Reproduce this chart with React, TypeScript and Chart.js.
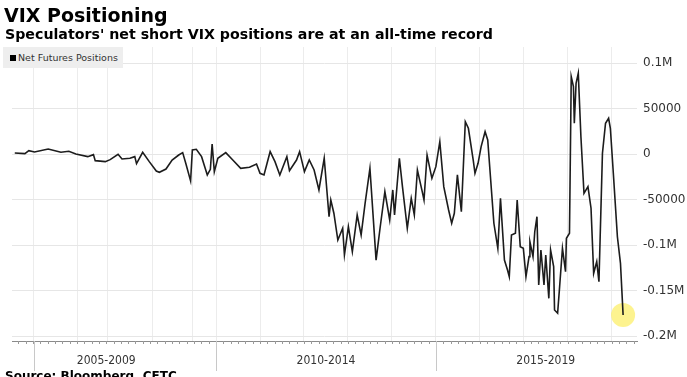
import React, { useEffect, useRef } from "react";
import { Chart, registerables } from "chart.js";

Chart.register(...registerables);

// Dates as decimal years, weekly-ish readings of speculators' net VIX futures positions (contracts)
const dates = [
  2005.42, 2005.65, 2005.74, 2005.87, 2006.18, 2006.47, 2006.65, 2006.81, 2007.08, 2007.21,
  2007.25, 2007.48, 2007.59, 2007.77, 2007.86, 2008.04, 2008.15, 2008.19, 2008.33, 2008.48,
  2008.64, 2008.71, 2008.86, 2009.0, 2009.15, 2009.24, 2009.31, 2009.42, 2009.46, 2009.55,
  2009.67, 2009.8, 2009.87, 2009.91, 2009.96, 2010.04, 2010.22, 2010.38, 2010.56, 2010.76,
  2010.92, 2011.0, 2011.09, 2011.16, 2011.23, 2011.34, 2011.45, 2011.61, 2011.67, 2011.83,
  2011.9, 2012.01, 2012.12, 2012.23, 2012.34, 2012.46, 2012.57, 2012.61, 2012.68, 2012.77,
  2012.88, 2012.92, 2013.01, 2013.1, 2013.21, 2013.3, 2013.39, 2013.5, 2013.64, 2013.73,
  2013.84, 2013.95, 2014.02, 2014.06, 2014.17, 2014.24, 2014.35, 2014.44, 2014.51, 2014.58,
  2014.69, 2014.73, 2014.8, 2014.91, 2015.0, 2015.09, 2015.18, 2015.29, 2015.36, 2015.42,
  2015.49, 2015.58, 2015.67, 2015.74, 2015.85, 2015.89, 2015.96, 2016.03, 2016.12, 2016.18,
  2016.32, 2016.41, 2016.47, 2016.56, 2016.63, 2016.67, 2016.72, 2016.81, 2016.85, 2016.92,
  2016.99, 2017.05, 2017.12, 2017.14, 2017.21, 2017.25, 2017.3, 2017.34, 2017.39, 2017.46,
  2017.5, 2017.57, 2017.61, 2017.68, 2017.7, 2017.77, 2017.81, 2017.88, 2017.95, 2017.97,
  2018.04, 2018.08, 2018.13, 2018.15, 2018.19, 2018.24, 2018.3, 2018.37, 2018.46, 2018.53,
  2018.59, 2018.66, 2018.71, 2018.79, 2018.86, 2018.93, 2018.97, 2019.04, 2019.13, 2019.2,
  2019.26,
];

const netPositions = [
  1400, 700, 4000, 2500, 5800, 2200, 3300, 300, -2600, -400,
  -7000, -8100, -5900, 0, -5200, -4400, -2600, -10300, 2200, -8100,
  -18400, -19800, -16200, -6300, -800, 1800, -9900, -29300, 4700, 5500,
  -2600, -22700, -16500, 11300, -19100, -4400, 1800, -6300, -15400, -14300,
  -10700, -20900, -22700, -9900, 2900, -8100, -22700, -2600, -18000, -6300,
  2900, -19100, -6300, -17300, -39200, -4400, -68600, -50200, -64800, -94200,
  -81300, -110700, -79600, -107000, -66700, -88700, -53900, -15400, -116300, -81300,
  -41100, -72200, -39200, -66700, -4400, -35600, -81300, -48400, -66700, -17300,
  -41100, -50200, -800, -26400, -13600, 13800, -35600, -61200, -75800, -64800,
  -22700, -63100, 35800, 28600, -6300, -20900, -9900, 8400, 24800, 15700,
  -75800, -103300, -48400, -116200, -127200, -134500, -88700, -86800, -50200, -101500,
  -103300, -134500, -112500, -96100, -112500, -85100, -68600, -143600, -105200, -143600,
  -110700, -158300, -105200, -123500, -171100, -174700, -149100, -103300, -129000, -92300,
  -86800, 85300, 74300, 34100, 78000, 89000, 19300, -42900, -35600, -59300,
  -130800, -118000, -140000, 1100, 34100, 39600, 28600, -22700, -90600, -119800,
  -176600,
];

const yTickValues = [100000, 50000, 0, -50000, -100000, -150000, -200000];
const yTickLabels = ["0.1M", "50000", "0", "-50000", "-0.1M", "-0.15M", "-0.2M"];

const gridYears = [2005.85, 2006.85, 2007.54, 2008.55, 2009.46, 2010, 2011, 2012, 2013, 2014, 2015, 2016, 2017, 2018, 2019];
const dividerYears = [2005.85, 2010, 2015];
const periodLabels = ["2005-2009", "2010-2014", "2015-2019"];
const periodCenters = [2007.5, 2012.5, 2017.5];

const X_MIN = 2005.357;
const X_MAX = 2019.576;
const Y_MIN = -205200;
const Y_MAX = 117900;

const axisDecor = {
  id: "axisDecor",
  afterDraw(chart: any) {
    const { ctx, chartArea } = chart;
    const x = chart.scales.x;
    const yb = chartArea.bottom;
    ctx.save();
    ctx.lineWidth = 1;
    ctx.strokeStyle = "#9a9a9a";
    ctx.beginPath();
    for (let m = Math.ceil(X_MIN * 6); m / 6 <= X_MAX; m++) {
      const px = Math.round(x.getPixelForValue(m / 6)) + 0.5;
      ctx.moveTo(px, yb);
      ctx.lineTo(px, yb + 3);
    }
    ctx.stroke();
    ctx.strokeStyle = "#c8c8c8";
    ctx.beginPath();
    for (const d of dividerYears) {
      const px = Math.round(x.getPixelForValue(d)) + 0.5;
      ctx.moveTo(px, yb);
      ctx.lineTo(px, yb + 30);
    }
    ctx.stroke();
    ctx.fillStyle = "#333";
    ctx.font = '12px "DejaVu Sans Condensed", "Liberation Sans Narrow", "DejaVu Sans"';
    ctx.textAlign = "center";
    ctx.textBaseline = "middle";
    periodLabels.forEach((p, i) => {
      ctx.fillText(p, x.getPixelForValue(periodCenters[i]), yb + 20);
    });
    ctx.restore();
  },
};

export default function App() {
  const ref = useRef<HTMLCanvasElement | null>(null);
  useEffect(() => {
    if (!ref.current) return;
    const last = dates.length - 1;
    const chart = new Chart(ref.current, {
      type: "line",
      data: {
        datasets: [
          {
            label: "Net Futures Positions",
            data: dates.map((d, i) => ({ x: d, y: netPositions[i] })),
            borderColor: "#1c1c1c",
            borderWidth: 1.6,
            pointRadius: 0,
            tension: 0,
          },
          {
            label: "highlight",
            data: [{ x: dates[last], y: netPositions[last] }],
            borderWidth: 0,
            showLine: false,
            pointRadius: 12,
            pointBackgroundColor: "rgba(252, 238, 95, 0.7)",
            pointBorderWidth: 0,
          },
        ],
      },
      options: {
        responsive: false,
        animation: false,
        devicePixelRatio: 1,
        layout: { padding: { top: 47, bottom: 36, left: 0, right: 0 } },
        plugins: { legend: { display: false }, tooltip: { enabled: false } },
        scales: {
          x: {
            type: "linear",
            min: X_MIN,
            max: X_MAX,
            afterBuildTicks: (s: any) => {
              s.ticks = gridYears.map((v) => ({ value: v }));
            },
            afterFit: (s: any) => {
              s.height = 0;
            },
            ticks: { display: false },
            grid: { color: "#ececec", drawTicks: false },
            border: { display: true, color: "#8a8a8a", width: 1 },
          },
          y: {
            position: "right",
            min: Y_MIN,
            max: Y_MAX,
            afterBuildTicks: (s: any) => {
              s.ticks = yTickValues.map((v) => ({ value: v }));
            },
            afterFit: (s: any) => {
              s.width = 50;
            },
            ticks: {
              padding: 6,
              color: "#333",
              font: { family: '"DejaVu Sans"', size: 12 },
              callback: (v: any) => {
                const i = yTickValues.indexOf(Number(v));
                return i >= 0 ? yTickLabels[i] : "";
              },
            },
            grid: { color: "#e6e6e6", drawTicks: false },
            border: { display: false },
          },
        },
      },
      plugins: [axisDecor],
    });
    return () => chart.destroy();
  }, []);

  return (
    <div
      style={{
        position: "fixed",
        top: 0,
        left: 0,
        width: 687,
        height: 377,
        overflow: "hidden",
        background: "#fff",
        fontFamily: '"DejaVu Sans", sans-serif',
      }}
    >
      <canvas ref={ref} width={687} height={377} style={{ position: "absolute", left: 0, top: 0 }} />
      <div style={{ position: "absolute", left: 4, top: 6, fontSize: 19, lineHeight: "19px", fontWeight: "bold", color: "#000", whiteSpace: "nowrap" }}>
        VIX Positioning
      </div>
      <div style={{ position: "absolute", left: 5, top: 27, fontSize: 14.2, lineHeight: "14.2px", fontWeight: "bold", color: "#000", whiteSpace: "nowrap" }}>
        Speculators' net short VIX positions are at an all-time record
      </div>
      <div style={{ position: "absolute", left: 3, top: 47, width: 120, height: 21, background: "#eeeeee" }}>
        <div style={{ position: "absolute", left: 7, top: 8, width: 6, height: 6, background: "#000" }} />
        <div style={{ position: "absolute", left: 15, top: 5.5, fontSize: 9.5, lineHeight: "10px", color: "#333", whiteSpace: "nowrap" }}>
          Net Futures Positions
        </div>
      </div>
      <div style={{ position: "absolute", left: 5, top: 370, fontSize: 12, lineHeight: "12px", fontWeight: "bold", color: "#000", whiteSpace: "nowrap" }}>
        Source: Bloomberg, CFTC
      </div>
    </div>
  );
}
